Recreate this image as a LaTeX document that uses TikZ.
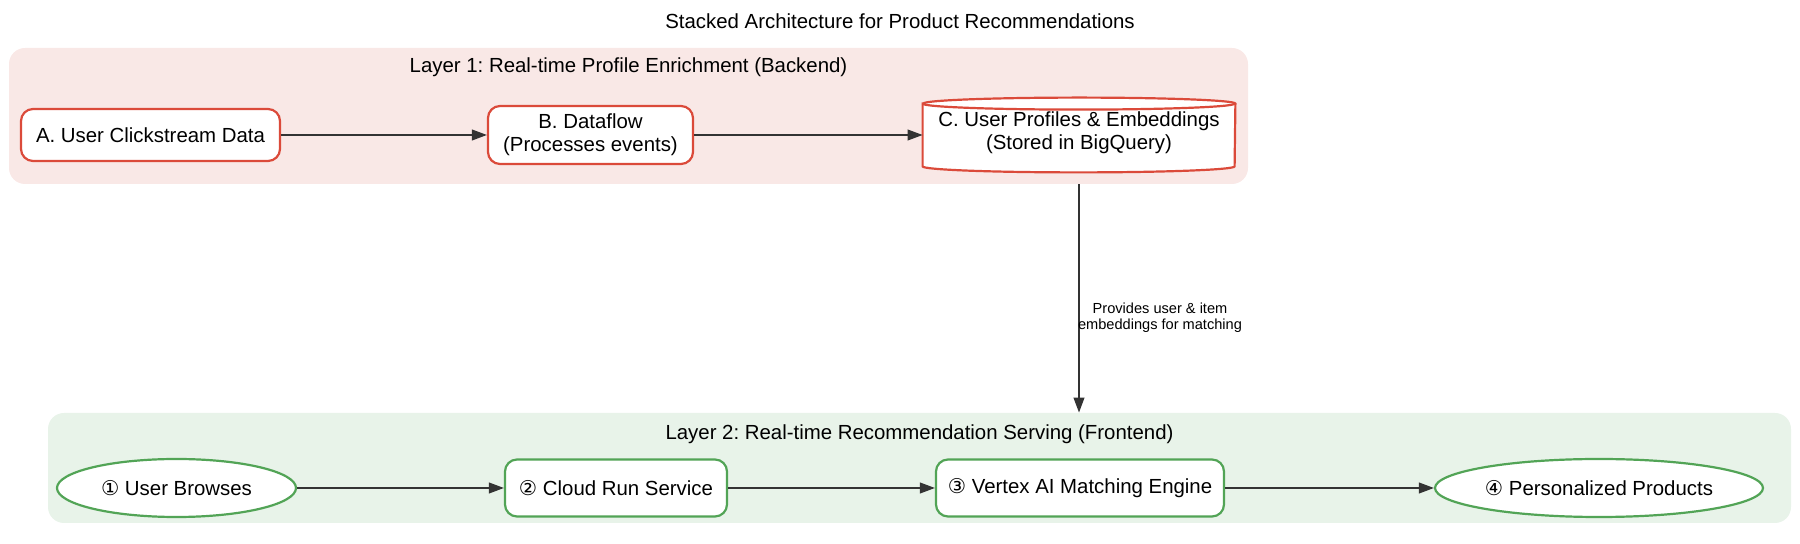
\documentclass[tikz,border=0pt]{standalone}
\usepackage{fontspec}
\setmainfont{Liberation Sans}
\newfontfamily\circfont{DejaVu Sans}
\usetikzlibrary{arrows.meta,shapes.geometric}
\definecolor{redb}{HTML}{DB4A3A}
\definecolor{redfill}{HTML}{F9E8E6}
\definecolor{greenb}{HTML}{52A456}
\definecolor{greenfill}{HTML}{E8F3E9}
\definecolor{edgec}{HTML}{333333}
\frenchspacing
\begin{document}
\begin{tikzpicture}[x=0.5pt,y=-0.5pt,
  txt/.style={font=\fontsize{10.2}{11.5}\selectfont, align=center, inner sep=0pt},
  cl1/.style={fill=redfill, rounded corners=8pt, inner sep=0pt},
  cl2/.style={fill=greenfill, rounded corners=8pt, inner sep=0pt},
  rbox/.style={txt, draw=redb, line width=1.1pt, fill=white, rounded corners=6pt},
  gbox/.style={txt, draw=greenb, line width=1.1pt, fill=white, rounded corners=6pt},
  gell/.style={txt, draw=greenb, line width=1.1pt, fill=white, ellipse, inner sep=0pt},
  edge/.style={draw=edgec, line width=0.75pt, -{Triangle[length=7.5pt,width=5.4pt]}},
  elabel/.style={font=\fontsize{7.3}{8.2}\selectfont, align=center, inner sep=0pt}
]
\useasboundingbox (0,0) rectangle (1800,544);

\node[txt] (title) at (900,21) {Stacked Architecture for Product Recommendations};

% clusters
\node[cl1, minimum width=619.5pt, minimum height=68pt] (L1) at (628.5,116) {};
\node[txt] (L1lab) at (628.5,67) {Layer 1: Real-time Profile Enrichment (Backend)};
\node[cl2, minimum width=871.5pt, minimum height=55pt] (L2) at (919.5,468) {};
\node[txt] (L2lab) at (919.5,434) {Layer 2: Real-time Recommendation Serving (Frontend)};

% layer 1 nodes
\node[rbox, minimum width=129.5pt, minimum height=26pt] (A) at (150.5,135) {A. User Clickstream Data};
\node[rbox, minimum width=102.5pt, minimum height=29pt] (B) at (590.5,135) {B. Dataflow\\(Processes events)};
\node[txt, minimum width=156pt, minimum height=37pt] (C) at (1079,135) {C. User Profiles \& Embeddings\\(Stored in BigQuery)};
\filldraw[draw=redb, fill=white, line width=1.1pt]
  ([yshift=-3pt]C.north west) -- ([yshift=3pt]C.south west)
  arc[start angle=180, end angle=360, x radius=78pt, y radius=3pt]
  -- ([yshift=-3pt]C.north east)
  arc[start angle=0, end angle=180, x radius=78pt, y radius=3pt] -- cycle;
\draw[draw=redb, line width=1.1pt] ([yshift=-3pt]C.north west)
  arc[start angle=180, end angle=360, x radius=78pt, y radius=3pt];
\node[txt] at ([yshift=1pt]C.center) {C. User Profiles \& Embeddings\\(Stored in BigQuery)};

% layer 2 nodes
\node[gell, minimum width=119.5pt, minimum height=29pt] (N1) at (176.5,488) {{\circfont ①} User Browses};
\node[gbox, minimum width=111pt, minimum height=28.5pt] (N2) at (616,488) {{\circfont ②} Cloud Run Service};
\node[gbox, minimum width=144pt, minimum height=28.5pt] (N3) at (1080,488) {{\circfont ③} Vertex AI Matching Engine};
\node[gell, minimum width=164pt, minimum height=29pt] (N4) at (1599,488) {{\circfont ④} Personalized Products};

% edges
\draw[edge] (A) -- (B);
\draw[edge] (B) -- (C);
\draw[edge] (N1) -- (N2);
\draw[edge] (N2) -- (N3);
\draw[edge] (N3) -- (N4);
\draw[edge] (L1.south -| C.south) -- (L2.north -| C.south);
\node[elabel] (lab) at (1160,318) {Provides user \& item\\embeddings for matching};
\end{tikzpicture}
\end{document}
